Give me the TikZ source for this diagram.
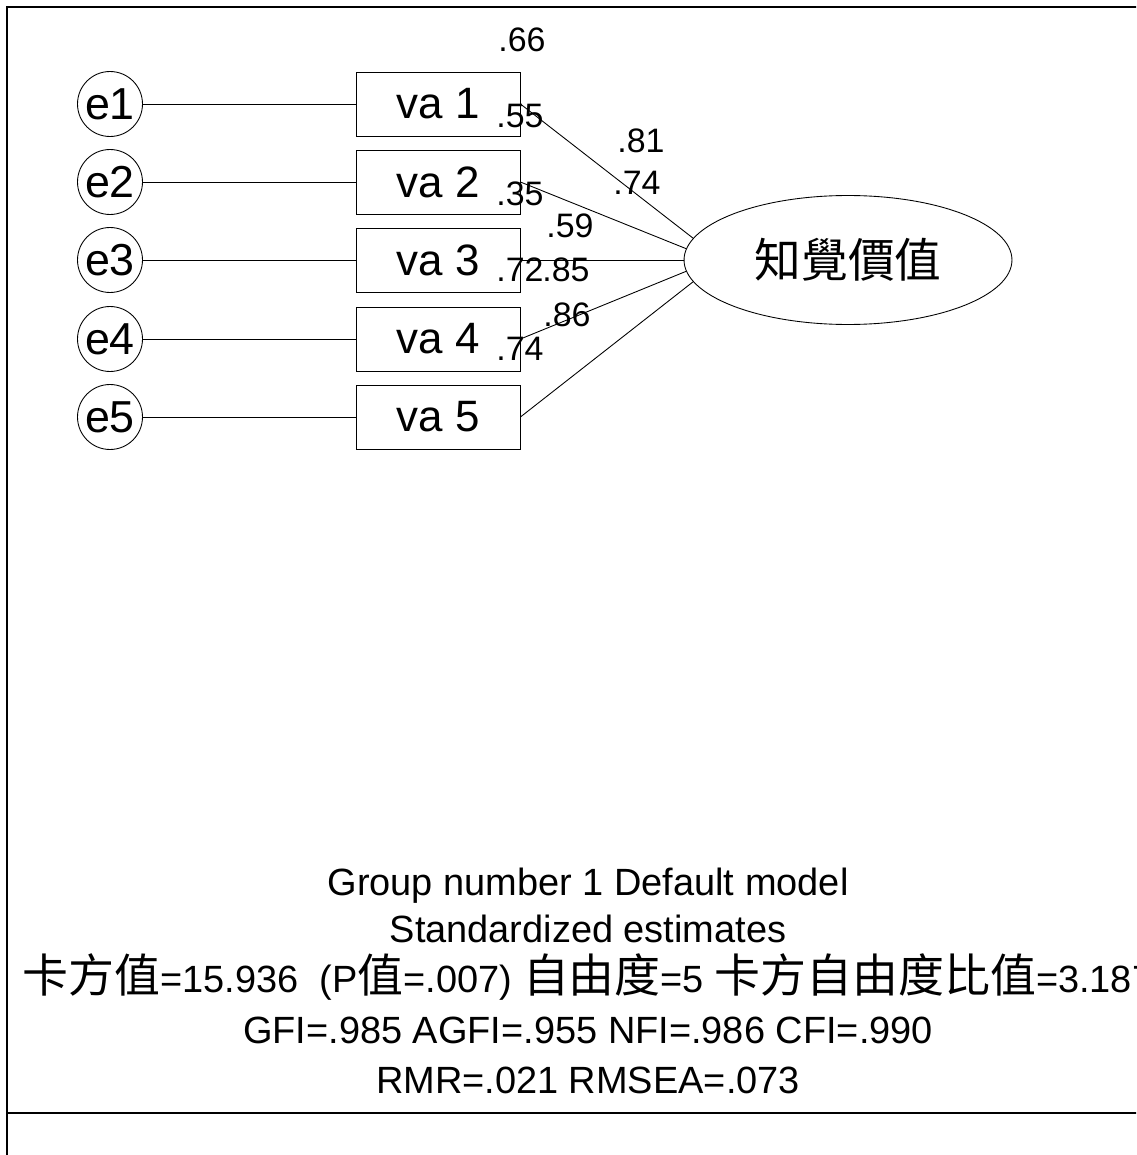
\documentclass[tikz,border=0pt]{standalone}
\usepackage{fontspec}
\setmainfont{Liberation Sans}
\newfontfamily\cjk{Noto Sans CJK TC}
\newfontfamily\cjkwide{Noto Sans CJK TC}[Scale=1.21]
\usepackage{tikz}
\usetikzlibrary{shapes.geometric}
\tikzset{
  err/.style={circle,draw=black,line width=0.5pt,inner sep=0pt,minimum size=1.3cm,font=\fontsize{25.5}{28}\selectfont},
  obs/.style={rectangle,draw=black,line width=0.5pt,inner sep=0pt,minimum width=3.28cm,minimum height=1.28cm,font=\fontsize{25}{28}\selectfont},
  latent/.style={ellipse,draw=black,line width=0.5pt,inner sep=0pt,minimum width=6.56cm,minimum height=2.58cm,font=\cjk\fontsize{26.6}{30}\selectfont},
  conn/.style={draw=black,line width=0.5pt},
  rule/.style={draw=black,line width=1.1pt},
}
\tikzset{est/.style={inner sep=0pt,font=\fontsize{19.3}{22}\selectfont}, stat/.style={inner sep=0pt,anchor=base,font=\fontsize{21.6}{24}\selectfont}}

\begin{document}
\begin{tikzpicture}[x=0.02cm,y=-0.02cm]
\useasboundingbox (0,0) rectangle (1136,1155);
\clip (0,0) rectangle (1136,1155);
\draw[rule] (7,1160) -- (7,7) -- (1140,7);
\draw[rule] (7,1113) -- (1140,1113);
\node[err] (e1) at (110,104) {e1};
\node[err] (e2) at (110,182) {e2};
\node[err] (e3) at (110,260) {e3};
\node[err] (e4) at (110,339) {e4};
\node[err] (e5) at (110,417) {e5};
\node[obs] (va1) at (438,104) {va 1};
\node[obs] (va2) at (438,182) {va 2};
\node[obs] (va3) at (438,260) {va 3};
\node[obs] (va4) at (438,339) {va 4};
\node[obs] (va5) at (438,417) {va 5};
\node[latent] (val) at (848,260) {知覺價值};
\draw[conn] (e1) -- (va1);
\draw[conn] (e2) -- (va2);
\draw[conn] (e3) -- (va3);
\draw[conn] (e4) -- (va4);
\draw[conn] (e5) -- (va5);
\draw[conn] (va1.east) -- (val.172);
\draw[conn] (va2.east) -- (val.176);
\draw[conn] (va3.east) -- (val.180);
\draw[conn] (va4.east) -- (val.184);
\draw[conn] (va5.east) -- (val.188);
% squared multiple correlations
\node[est] (rsq1) at (522,40) {.66};
\node[est] (rsq2) at (520,116) {.55};
\node[est] (rsq3) at (520,194) {.35};
\node[est] (rsq4) at (520,270) {.72};
\node[est] (rsq5) at (520,349) {.74};
% loadings
\node[est] (ld1) at (641,141) {.81};
\node[est] (ld2) at (637,183) {.74};
\node[est] (ld3) at (570,226) {.59};
\node[est] (ld4) at (566,270) {.85};
\node[est] (ld5) at (567,315) {.86};
% fit summary
\node[stat] (fit1) at (588,895) {Group number 1 Default model};
\node[stat] (fit2) at (588,942) {Standardized estimates};
\node[stat] (fit3) at (588,992) {{\cjkwide 卡方值}=15.936\ \ (P{\cjkwide 值}=.007) {\cjkwide 自由度}=5 {\cjkwide 卡方自由度比值}=3.187};
\node[stat] (fit4) at (588,1043) {GFI=.985 AGFI=.955 NFI=.986 CFI=.990};
\node[stat] (fit5) at (588,1093) {RMR=.021 RMSEA=.073};
\end{tikzpicture}
\end{document}
